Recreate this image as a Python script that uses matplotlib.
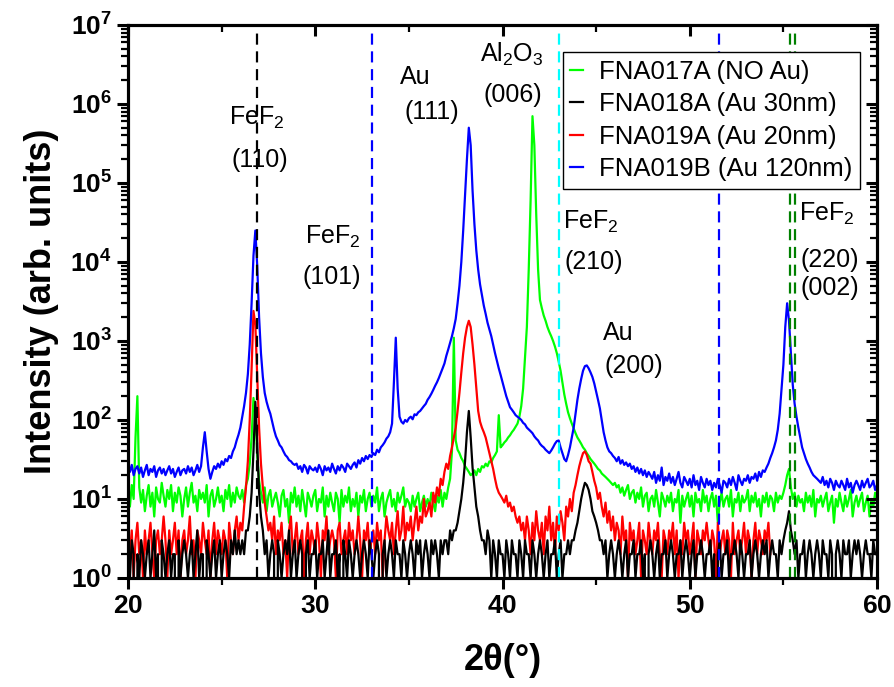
import numpy as np
import matplotlib
matplotlib.use('Agg')
from matplotlib import pyplot as plt
from matplotlib.ticker import FuncFormatter, LogLocator, MultipleLocator, NullFormatter

plt.rcParams['font.family'] = ['Liberation Sans', 'DejaVu Sans']
plt.rcParams['mathtext.fontset'] = 'custom'
plt.rcParams['mathtext.rm'] = 'Liberation Sans'
plt.rcParams['mathtext.bf'] = 'Liberation Sans:bold'
plt.rcParams['mathtext.it'] = 'Liberation Sans:italic'

# 2theta grid: 20.0 .. 60.0 in 0.1 deg steps
theta_start = 20.0
theta_step = 0.1

# FNA019B (Au 120nm)
blue = [25, 22, 27, 20, 24, 26, 21, 25, 19, 23,
        27, 20, 24, 22, 26, 19, 23, 25, 21, 24,
        20, 23, 26, 21, 24, 19, 22, 25, 20, 23,
        24, 21, 26, 22, 25, 20, 23, 27, 22, 26,
        45, 70, 40, 24, 18, 22, 26, 24, 28, 25,
        30, 27, 32, 30, 35, 33, 40, 45, 55, 65,
        80, 110, 150, 220, 380, 900, 3000, 12000, 25000, 9000,
        2000, 700, 350, 220, 170, 140, 120, 95, 75, 62,
        55, 48, 45, 40, 36, 34, 31, 30, 28, 27,
        28, 24, 26, 22, 27, 25, 21, 26, 24, 23,
        25, 22, 27, 24, 20, 26, 23, 25, 22, 28,
        24, 21, 26, 23, 27, 25, 22, 28, 26, 24,
        27, 29, 25, 31, 28, 33, 30, 35, 32, 36,
        34, 38, 36, 42, 39, 45, 48, 52, 58, 62,
        70, 90, 300, 1100, 250, 110, 95, 90, 100, 95,
        105, 110, 102, 118, 115, 125, 130, 140, 150, 160,
        180, 195, 215, 240, 270, 300, 340, 390, 450, 520,
        650, 780, 950, 1150, 1450, 1900, 3000, 5000, 10000, 25000,
        70000, 200000, 500000, 300000, 80000, 30000, 14000, 8000, 5200, 3800,
        2800, 2200, 1700, 1400, 1150, 900, 700, 560, 450, 370,
        300, 245, 200, 170, 145, 135, 125, 115, 110, 105,
        100, 92, 88, 80, 76, 72, 68, 62, 58, 55,
        50, 47, 45, 42, 40, 38, 41, 45, 50, 54,
        55, 45, 38, 32, 30, 36, 45, 60, 80, 120,
        180, 250, 330, 420, 480, 490, 450, 400, 350, 290,
        230, 180, 140, 100, 70, 55, 45, 40, 38, 35,
        33, 30, 34, 28, 31, 27, 29, 26, 28, 24,
        26, 22, 25, 21, 24, 20, 23, 19, 22, 20,
        18, 22, 16, 20, 17, 25, 15, 19, 17, 21,
        16, 19, 15, 18, 22, 16, 14, 19, 17, 15,
        18, 14, 20, 15, 17, 13, 19, 16, 14, 18,
        15, 17, 13, 16, 14, 18, 15, 12, 17, 16,
        14, 18, 15, 19, 16, 13, 20, 17, 15, 18,
        17, 20, 16, 19, 18, 21, 17, 22, 19, 23,
        22, 25, 28, 33, 38, 45, 55, 75, 120, 250,
        500, 1500, 3000, 1800, 700, 280, 160, 110, 80, 60,
        45, 38, 32, 28, 25, 22, 20, 19, 18, 17,
        16, 19, 15, 17, 14, 18, 16, 13, 17, 15,
        14, 17, 15, 13, 18, 14, 16, 12, 15, 17,
        15, 13, 17, 14, 16, 18, 14, 15, 17, 13,
        15]

# FNA017A (NO Au)
green = [12, 8, 15, 10, 60, 200, 14, 9, 13, 7,
         11, 15, 8, 12, 6, 14, 10, 9, 16, 11,
         8, 13, 10, 15, 7, 12, 9, 14, 11, 6,
         10, 14, 8, 12, 16, 9, 11, 7, 13, 10,
         12, 9, 15, 6, 11, 13, 8, 10, 14, 9,
         11, 7, 13, 10, 15, 8, 12, 9, 14, 11,
         10, 13, 9, 15, 18, 28, 60, 190, 120, 35,
         17, 12, 9, 14, 7, 11, 13, 8, 10, 12,
         9, 6, 11, 13, 8, 10, 5, 12, 9, 14,
         8, 11, 7, 13, 9, 6, 12, 10, 8, 11,
         13, 7, 10, 9, 14, 6, 11, 8, 12, 9,
         7, 12, 10, 5, 13, 8, 11, 9, 14, 7,
         10, 8, 12, 6, 11, 9, 13, 7, 10, 12,
         8, 11, 9, 14, 7, 10, 12, 6, 9, 11,
         13, 8, 10, 7, 12, 9, 11, 14, 8, 10,
         9, 7, 11, 8, 10, 12, 7, 9, 11, 8,
         10, 8, 12, 9, 7, 11, 9, 13, 8, 12,
         10, 14, 18, 40, 1100, 55, 42, 38, 33, 30,
         26, 24, 22, 20, 21, 23, 20, 24, 22, 26,
         25, 28, 26, 30, 29, 33, 36, 40, 115, 45,
         48, 52, 55, 60, 64, 70, 75, 82, 90, 110,
         150, 250, 600, 1500, 8000, 60000, 700000, 300000, 40000, 8000,
         3300, 2600, 2100, 1800, 1500, 1300, 1150, 1000, 850, 700,
         550, 420, 300, 210, 160, 125, 105, 90, 78, 68,
         60, 55, 50, 45, 42, 38, 35, 32, 30, 28,
         26, 24, 23, 21, 20, 19, 18, 17, 16, 15,
         16, 14, 15, 12, 14, 11, 13, 15, 10, 12,
         13, 9, 12, 10, 14, 8, 11, 12, 7, 10,
         11, 8, 13, 9, 6, 12, 10, 8, 11, 9,
         12, 7, 10, 9, 13, 5, 11, 8, 10, 12,
         8, 11, 6, 12, 9, 10, 7, 13, 9, 11,
         7, 10, 12, 8, 11, 5, 9, 12, 8, 10,
         11, 8, 13, 6, 10, 9, 12, 7, 11, 9,
         10, 13, 7, 11, 9, 12, 8, 10, 6, 11,
         9, 12, 8, 11, 10, 7, 12, 9, 11, 10,
         12, 15, 20, 24, 14, 10, 12, 8, 11, 9,
         10, 7, 12, 9, 11, 8, 13, 6, 10, 9,
         11, 8, 10, 12, 7, 9, 11, 5, 10, 8,
         12, 9, 7, 11, 8, 10, 13, 6, 9, 11,
         8, 10, 12, 7, 9, 11, 6, 10, 8, 12,
         9]

# FNA019A (Au 20nm), scan stops near 54.3 deg
red = [3, 2, 4, 1, 3, 5, 2, 3, 1, 4,
       2, 3, 5, 2, 1, 3, 4, 2, 3, 6,
       3, 1, 4, 2, 3, 5, 2, 4, 1, 3,
       4, 2, 3, 6, 2, 3, 1, 4, 3, 2,
       5, 3, 2, 4, 1, 3, 5, 2, 4, 3,
       2, 4, 3, 1, 5, 3, 2, 4, 6, 3,
       5, 4, 8, 14, 30, 100, 450, 2400, 1600, 350,
       80, 28, 14, 9, 6, 4, 5, 3, 6, 2,
       4, 3, 5, 2, 3, 1, 4, 6, 2, 3,
       5, 2, 3, 4, 1, 3, 5, 2, 4, 3,
       2, 5, 3, 1, 4, 3, 6, 2, 3, 4,
       3, 1, 4, 5, 2, 3, 4, 2, 5, 3,
       4, 2, 3, 6, 3, 1, 4, 3, 5, 2,
       3, 4, 2, 5, 3, 4, 1, 3, 6, 4,
       3, 5, 2, 4, 7, 3, 4, 8, 3, 5,
       4, 6, 3, 5, 8, 4, 6, 5, 10, 6,
       7, 9, 6, 12, 9, 14, 11, 18, 15, 22,
       28, 24, 35, 45, 60, 80, 130, 220, 400, 700,
       1100, 1500, 1800, 1500, 900, 500, 250, 130, 95, 80,
       70, 60, 48, 38, 30, 24, 18, 14, 12, 11,
       10, 9, 11, 8, 9, 7, 8, 6, 5, 6,
       4, 5, 3, 6, 4, 2, 5, 3, 7, 4,
       3, 5, 2, 6, 4, 8, 3, 5, 2, 6,
       4, 7, 5, 3, 8, 6, 10, 7, 12, 15,
       20, 26, 32, 38, 40, 36, 30, 28, 22, 17,
       14, 10, 12, 8, 6, 9, 5, 7, 4, 6,
       3, 5, 4, 2, 6, 3, 4, 1, 5, 3,
       4, 2, 3, 5, 1, 4, 3, 2, 5, 3,
       2, 4, 3, 5, 2, 1, 4, 3, 2, 4,
       3, 5, 2, 4, 1, 3, 2, 5, 3, 4,
       2, 3, 5, 1, 4, 3, 2, 4, 3, 5,
       3, 2, 4, 3, 1, 5, 2, 3, 4, 2,
       4, 3, 1, 5, 2, 3, 4, 2, 3, 5,
       2, 4, 3, 1, 3, 5, 2, 4, 3, 2,
       4, 3, 5, 2]

# FNA018A (Au 30nm)
black = [2, 1, 3, 2, 0, 2, 1, 3, 2, 1,
         2, 3, 1, 2, 4, 1, 2, 0, 3, 2,
         1, 2, 3, 1, 2, 2, 0, 3, 1, 2,
         3, 2, 1, 2, 3, 1, 2, 4, 1, 2,
         2, 0, 3, 2, 1, 2, 3, 1, 2, 3,
         1, 2, 3, 2, 1, 3, 2, 4, 2, 3,
         2, 3, 2, 4, 4, 6, 12, 40, 170, 50,
         12, 6, 4, 2, 3, 1, 2, 3, 2, 0,
         3, 2, 1, 2, 3, 2, 4, 1, 2, 3,
         1, 2, 3, 2, 0, 2, 3, 1, 2, 2,
         3, 1, 2, 2, 3, 1, 2, 4, 1, 2,
         2, 3, 1, 2, 0, 3, 2, 1, 3, 2,
         1, 2, 3, 2, 1, 2, 3, 2, 1, 3,
         2, 1, 2, 3, 2, 0, 2, 3, 1, 2,
         3, 2, 1, 3, 2, 2, 1, 3, 2, 1,
         2, 3, 2, 1, 3, 2, 3, 1, 2, 3,
         2, 1, 3, 2, 3, 2, 1, 3, 2, 3,
         3, 2, 4, 3, 4, 4, 5, 7, 10, 16,
         30, 70, 130, 60, 25, 14, 8, 6, 4, 3,
         3, 2, 4, 3, 1, 3, 2, 1, 3, 2,
         2, 1, 3, 2, 1, 3, 2, 2, 1, 3,
         2, 1, 3, 2, 2, 1, 3, 2, 1, 2,
         3, 2, 1, 2, 3, 1, 2, 2, 3, 1,
         2, 3, 1, 2, 2, 3, 2, 3, 3, 4,
         5, 7, 10, 13, 16, 15, 13, 10, 7, 6,
         5, 4, 3, 3, 2, 3, 1, 2, 3, 2,
         1, 2, 3, 2, 1, 2, 3, 1, 2, 2,
         3, 1, 2, 2, 3, 1, 2, 0, 2, 3,
         2, 1, 2, 3, 1, 2, 2, 3, 1, 2,
         3, 2, 1, 2, 2, 3, 1, 2, 3, 2,
         1, 2, 3, 1, 2, 2, 3, 2, 1, 2,
         2, 3, 1, 2, 0, 2, 3, 1, 2, 2,
         3, 1, 2, 2, 3, 2, 1, 3, 2, 1,
         2, 2, 3, 1, 2, 3, 2, 1, 2, 3,
         2, 3, 1, 2, 3, 2, 2, 1, 3, 2,
         3, 4, 5, 7, 4, 3, 2, 3, 1, 2,
         2, 3, 1, 2, 3, 2, 1, 2, 3, 2,
         1, 3, 2, 2, 1, 3, 2, 0, 2, 3,
         2, 1, 3, 2, 2, 3, 1, 2, 3, 2,
         3, 2, 1, 2, 3, 2, 2, 1, 3, 2,
         2]

labels = ['FNA017A (NO Au)', 'FNA018A (Au 30nm)', 'FNA019A (Au 20nm)', 'FNA019B (Au 120nm)']

# reference peak positions (dashed lines)
ref_pos = [26.9, 33.05, 43.0, 51.55, 55.36, 55.63]
ref_col = ['black', 'blue', 'cyan', 'blue', '#008000', '#008000']

# peak labels
ann_text = ['FeF$_\\mathrm{2}$', '(110)', 'FeF$_\\mathrm{2}$', '(101)', 'Au', '(111)',
            'Al$_\\mathrm{2}$O$_\\mathrm{3}$', '(006)', 'FeF$_\\mathrm{2}$', '(210)',
            'Au', '(200)', 'FeF$_\\mathrm{2}$', '(220)', '(002)']
ann_x = [26.85, 27.05, 30.96, 30.86, 35.35, 36.2, 40.48, 40.53, 44.7, 44.87,
         46.2, 47.0, 57.33, 57.5, 57.5]
ann_y = [6.6e5, 1.96e5, 2.1e4, 6.5e3, 2.2e6, 7.9e5, 4.2e6, 1.29e6, 3.2e4, 1.0e4,
         1.26e3, 4.8e2, 4.0e4, 1.07e4, 4.7e3]


def grid(vals):
    return theta_start + theta_step * np.arange(len(vals))


fig = plt.figure(figsize=(8.94, 6.87), dpi=100)
ax = fig.add_axes([0.1432, 0.1587, 0.8378, 0.805])

lw = 1.6
ax.plot(grid(green), green, color='#00ff00', lw=lw, zorder=2, label=labels[0])
ax.plot(grid(black), black, color='black', lw=lw, zorder=4, label=labels[1])
ax.plot(grid(red), red, color='red', lw=lw, zorder=3, label=labels[2])
ax.plot(grid(blue), blue, color='blue', lw=lw, zorder=5, label=labels[3])

for xp, c in zip(ref_pos, ref_col):
    ax.axvline(xp, color=c, ls=(0, (5, 3)), lw=1.6, zorder=6)

ax.set_yscale('log')
ax.set_xlim(20, 60)
ax.set_ylim(1, 1e7)

bold_int = FuncFormatter(lambda v, p: r'$\mathbf{%d}$' % round(v))
bold_pow = FuncFormatter(lambda v, p: r'$\mathbf{10^{%d}}$' % round(np.log10(v)))


def set_ticks(a):
    a.xaxis.set_major_locator(MultipleLocator(10))
    a.xaxis.set_minor_locator(MultipleLocator(5))
    a.yaxis.set_major_locator(LogLocator(base=10, numticks=12))
    a.yaxis.set_minor_locator(LogLocator(base=10, subs=np.arange(2, 10), numticks=12))
    a.yaxis.set_minor_formatter(NullFormatter())
    for s in a.spines.values():
        s.set_linewidth(2.2)


set_ticks(ax)
ax.xaxis.set_major_formatter(bold_int)
ax.yaxis.set_major_formatter(bold_pow)
ax.tick_params(which='major', direction='out', length=8, width=2.2, labelsize=19,
               top=False, right=False)
ax.tick_params(which='minor', direction='out', length=5, width=1.6, top=False, right=False)

# top and right ticks point inwards
axt = ax.twiny()
axt.set_xlim(20, 60)
set_ticks(axt)
axt.tick_params(which='major', direction='in', length=8, width=2.2, labeltop=False)
axt.tick_params(which='minor', direction='in', length=5, width=1.6)

axr = ax.twinx()
axr.set_yscale('log')
axr.set_ylim(1, 1e7)
set_ticks(axr)
axr.tick_params(which='major', direction='in', length=8, width=2.2, labelright=False)
axr.tick_params(which='minor', direction='in', length=5, width=1.6)

ax.set_xlabel('2θ(°)', fontsize=26, fontweight='bold', labelpad=18)
ax.set_ylabel('Intensity (arb. units)', fontsize=26, fontweight='bold', labelpad=8)

for t, xv, yv in zip(ann_text, ann_x, ann_y):
    ax.text(xv, yv, t, fontsize=18, ha='center', va='center', zorder=7)

leg = ax.legend(loc='upper right', bbox_to_anchor=(0.977, 0.951), frameon=True,
                fancybox=False, edgecolor='black', framealpha=1,
                prop={'size': 18.5}, handlelength=0.5, handletextpad=0.6,
                borderpad=0.3, labelspacing=0.33, borderaxespad=0)
leg.get_frame().set_linewidth(1.0)
leg.set_zorder(8)

fig.savefig('out.png', dpi=100)
